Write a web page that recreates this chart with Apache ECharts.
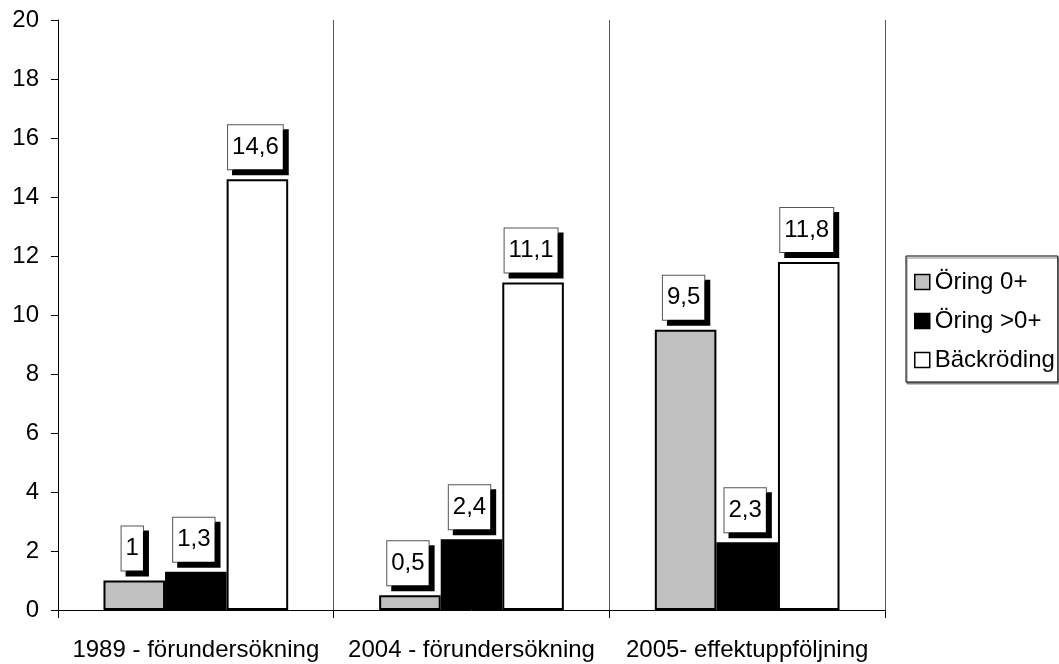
<!DOCTYPE html>
<html>
<head>
<meta charset="utf-8">
<script src="https://cdn.jsdelivr.net/npm/echarts@6/dist/echarts.min.js"></script>
<style>
  html, body { margin: 0; padding: 0; background: #fff; }
  #chart { width: 1059px; height: 664px; }
</style>
</head>
<body>
<div id="chart"></div>
<script>
// Fish density per survey
const categories = ['1989 - förundersökning', '2004 - förundersökning', '2005- effektuppföljning'];
const seriesNames = ['Öring 0+', 'Öring >0+', 'Bäckröding'];
const oring0 = [1, 0.5, 9.5];
const oringOver0 = [1.3, 2.4, 2.3];
const backroding = [14.6, 11.1, 11.8];
const yTicks = [0, 2, 4, 6, 8, 10, 12, 14, 16, 18, 20];

const FONT = 'Liberation Sans, Arial, sans-serif';
const FS = 24;

const valueLabel = {
  show: true,
  position: 'top',
  distance: 10,
  offset: [-2, 0],
  formatter: p => String(p.value).replace('.', ','),
  fontFamily: FONT,
  fontSize: FS,
  lineHeight: 24,
  color: '#000',
  backgroundColor: '#fff',
  borderColor: '#555',
  borderWidth: 1,
  padding: [10, 4],
  shadowColor: '#000',
  shadowBlur: 0,
  shadowOffsetX: 5,
  shadowOffsetY: 5
};

function barSeries(name, data, fill) {
  return {
    name: name,
    type: 'bar',
    data: data,
    barGap: '0%',
    barCategoryGap: '33%',
    itemStyle: { color: fill, borderColor: '#000', borderWidth: 2 },
    label: valueLabel,
    emphasis: { disabled: true }
  };
}

const chart = echarts.init(document.getElementById('chart'), null, { renderer: 'canvas' });
chart.setOption({
  animation: false,
  backgroundColor: '#fff',
  grid: { left: 58, right: 174, top: 20, bottom: 54 },
  legend: {
    orient: 'vertical',
    left: 906,
    top: 256,
    data: seriesNames,
    icon: 'rect',
    itemWidth: 15,
    itemHeight: 15,
    itemGap: 15,
    padding: [14, 3, 10, 8],
    borderColor: '#000',
    borderWidth: 1,
    backgroundColor: '#fff',
    shadowColor: '#888',
    shadowOffsetX: 1,
    shadowOffsetY: 2,
    shadowBlur: 0,
    itemStyle: { borderWidth: 1.5, borderColor: '#000' },
    textStyle: { fontFamily: FONT, fontSize: FS, color: '#000' }
  },
  xAxis: {
    type: 'category',
    data: categories,
    boundaryGap: true,
    axisLine: { lineStyle: { color: '#000', width: 1 } },
    axisTick: { show: true, alignWithLabel: false, length: 8, lineStyle: { color: '#000' } },
    splitLine: { show: true, lineStyle: { color: '#555', width: 1 } },
    axisLabel: { fontFamily: FONT, fontSize: FS, color: '#000', margin: 28, interval: 0 }
  },
  yAxis: {
    type: 'value',
    min: yTicks[0],
    max: yTicks[yTicks.length - 1],
    interval: 2,
    axisLine: { show: true, lineStyle: { color: '#000', width: 1 } },
    axisTick: { show: true, length: 7, lineStyle: { color: '#000' } },
    splitLine: { show: false },
    axisLabel: { fontFamily: FONT, fontSize: FS, color: '#000', margin: 19 }
  },
  series: [
    barSeries(seriesNames[0], oring0, '#c0c0c0'),
    barSeries(seriesNames[1], oringOver0, '#000'),
    barSeries(seriesNames[2], backroding, '#fff')
  ]
});
</script>
</body>
</html>
